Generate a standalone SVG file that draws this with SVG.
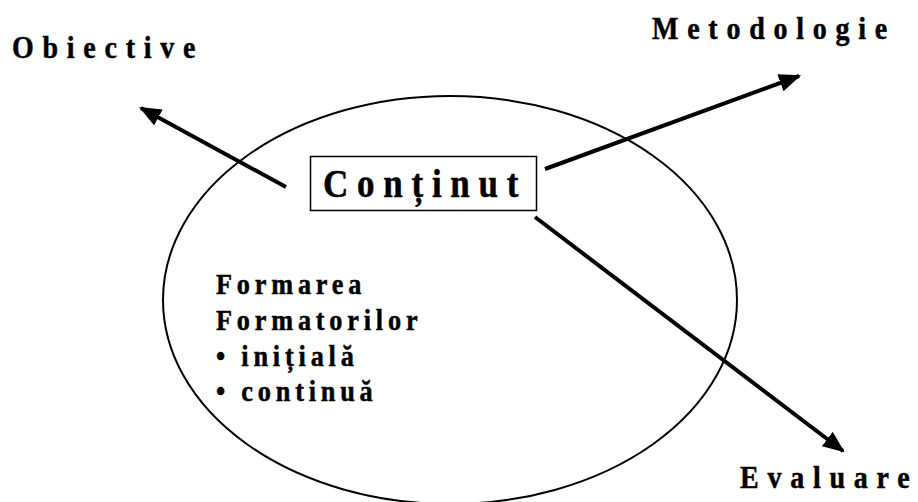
<svg xmlns="http://www.w3.org/2000/svg" width="918" height="502" viewBox="0 0 918 502">
<defs>
<marker id="ah" viewBox="0 0 10 10" refX="9" refY="5" markerWidth="5.5" markerHeight="4.5" orient="auto" markerUnits="strokeWidth" preserveAspectRatio="none">
<path d="M0,0 L10,5 L0,10 z" fill="#000"/>
</marker>
</defs>
<rect width="918" height="502" fill="#fff"/>
<g id="ellipse">
<ellipse cx="450" cy="300" rx="287" ry="204" fill="none" stroke="#000" stroke-width="2"/>
</g>
<g id="connectors" stroke="#000" stroke-width="4" fill="none" marker-end="url(#ah)">
<line x1="286" y1="187" x2="141" y2="108"/>
<line x1="545" y1="169" x2="799" y2="76"/>
<line x1="535" y1="217" x2="843" y2="451"/>
</g>
<g font-family="Liberation Serif, Times New Roman, serif" font-weight="bold" fill="#000" stroke="#000" stroke-width="0.5">
<g id="continut">
<rect x="310.5" y="156.5" width="226" height="54" fill="#fff" stroke="#000" stroke-width="1.5"/>
<text font-size="40" letter-spacing="10" transform="translate(323,197) scale(0.875,1)">Conținut</text>
</g>
<g id="obiective">
<text font-size="32" letter-spacing="10" transform="translate(12,58) scale(0.875,1)">Obiective</text>
</g>
<g id="metodologie">
<text font-size="32" letter-spacing="10" transform="translate(652,39) scale(0.875,1)">Metodologie</text>
</g>
<g id="evaluare">
<text font-size="32" letter-spacing="10" transform="translate(740,488) scale(0.875,1)">Evaluare</text>
</g>
<g id="formarea" font-size="30" letter-spacing="5.5">
<text transform="translate(216,294) scale(0.875,1)">Formarea</text>
<text transform="translate(216,330) scale(0.875,1)">Formatorilor</text>
<text transform="translate(216,366) scale(0.875,1)">• inițială</text>
<text transform="translate(216,401) scale(0.875,1)">• continuă</text>
</g>
</g>
</svg>
